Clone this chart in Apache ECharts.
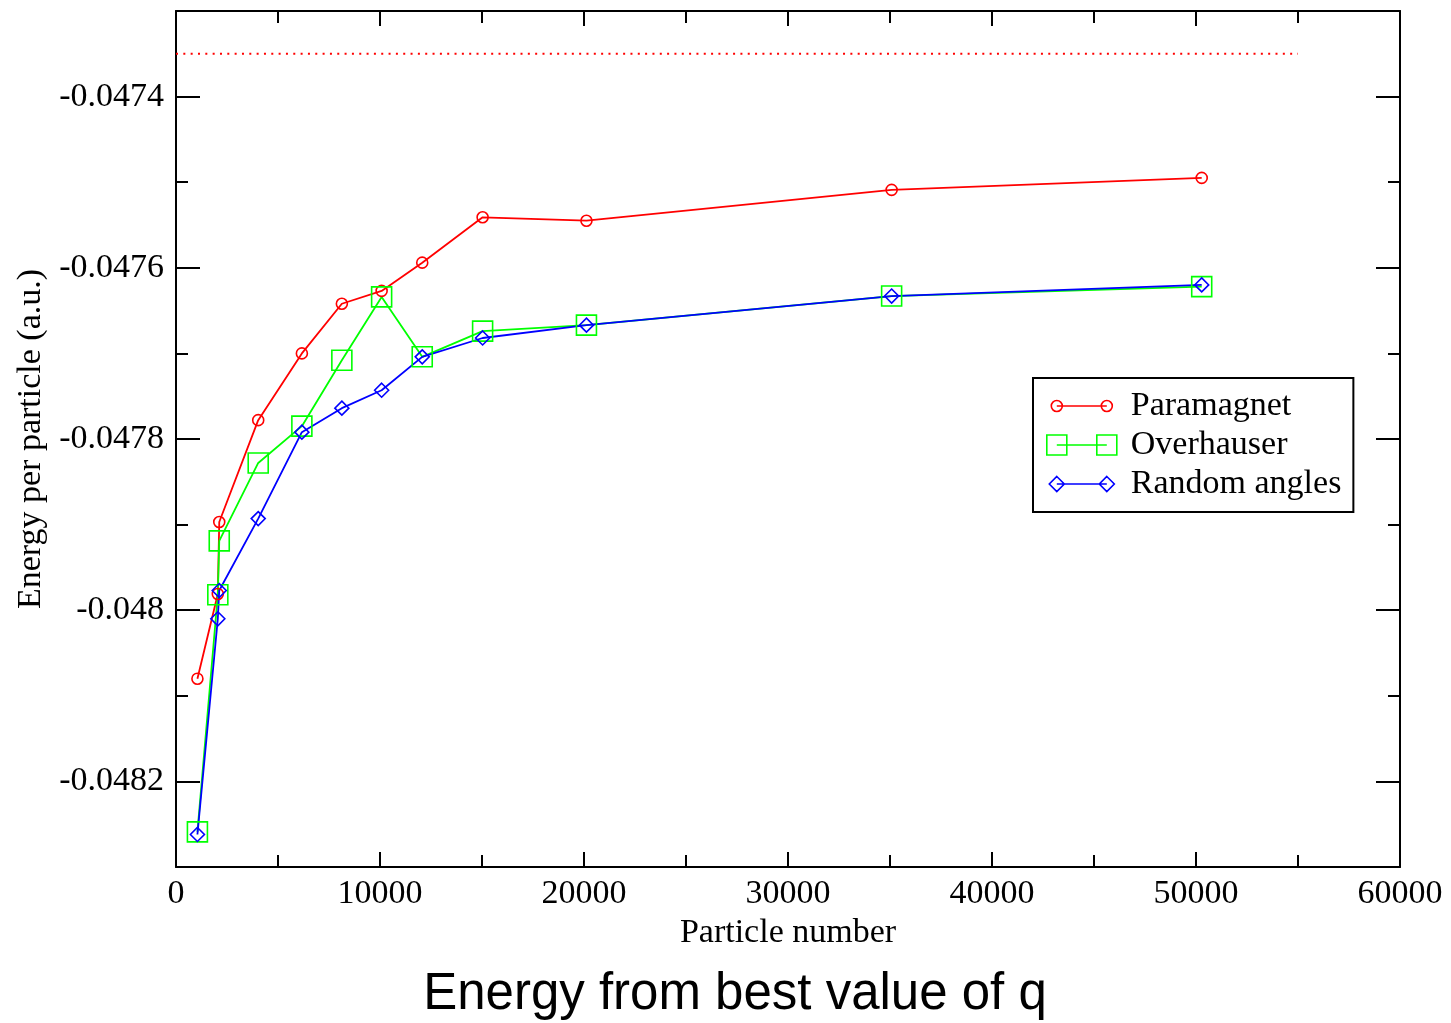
<!DOCTYPE html>
<html><head><meta charset="utf-8">
<script src="https://cdn.jsdelivr.net/npm/echarts@6/dist/echarts.min.js"></script>
<style>html,body{margin:0;padding:0;background:#fff}#c{width:1451px;height:1023px}</style>
</head><body><div id="c"></div>
<script>
const particleNumber = [1050, 2050, 2120, 4030, 6170, 8130, 10080, 12070, 15030, 20120, 35080, 50280];
const paramagnet   = [-0.048080, -0.047981, -0.047897, -0.047778, -0.047700, -0.047642, -0.047627, -0.047594, -0.047541, -0.047545, -0.047509, -0.047495];
const overhauser   = [-0.048259, -0.047982, -0.047919, -0.047828, -0.047785, -0.047708, -0.047634, -0.047704, -0.047674, -0.047667, -0.047633, -0.047622];
const randomAngles = [-0.048262, -0.048010, -0.047977, -0.047893, -0.047792, -0.047764, -0.047743, -0.047704, -0.047682, -0.047667, -0.047633, -0.047620];
const referenceX = [0, 55000];
const referenceY = [-0.04735, -0.04735];
const yMajorTicks = [-0.0482, -0.0480, -0.0478, -0.0476, -0.0474];
const seriesNames = ['Paramagnet', 'Overhauser', 'Random angles'];

const SERIF = 'Liberation Serif';
const pair = (xs, ys) => xs.map((x, i) => [x, ys[i]]);
const fmtY = v => Math.round(v * 1e4) % 2 === 0 ? String(parseFloat(v.toFixed(4))) : '';
const axisLine = { show: true, lineStyle: { color: '#000', width: 2 } };

function xAx(pos, labels) {
  return {
    type: 'value', position: pos, min: 0, max: 60000, interval: 10000,
    axisLine, splitLine: { show: false },
    axisTick: { show: true, inside: true, length: 15, lineStyle: { color: '#000', width: 2 } },
    minorTick: { show: true, splitNumber: 2, length: 12, lineStyle: { color: '#000', width: 2 } },
    axisLabel: { show: labels, formatter: v => String(v), fontFamily: SERIF, fontSize: 34, color: '#000', margin: 10 },
    name: labels ? 'Particle number' : '', nameLocation: 'middle', nameGap: 37,
    nameTextStyle: { fontFamily: SERIF, fontSize: 34, color: '#000' }
  };
}
function yAxMinor(pos, labels) {
  return {
    type: 'value', position: pos, min: -0.0483, max: -0.0473, interval: 0.0001,
    axisLine, splitLine: { show: false },
    axisTick: { show: true, inside: true, length: 12, lineStyle: { color: '#000', width: 2 } },
    axisLabel: { show: labels, formatter: fmtY, fontFamily: SERIF, fontSize: 34, color: '#000', margin: 12 },
    name: labels ? 'Energy per particle (a.u.)' : '', nameLocation: 'middle', nameGap: 120,
    nameTextStyle: { fontFamily: SERIF, fontSize: 34, color: '#000' }
  };
}
function yAxMajor(pos) {
  return {
    type: 'value', position: pos, min: -0.0483, max: -0.0473, interval: 0.0001,
    axisLine: { show: false }, splitLine: { show: false }, axisLabel: { show: false },
    axisTick: { show: true, inside: true, length: 24, customValues: yMajorTicks, lineStyle: { color: '#000', width: 2 } }
  };
}

const circleIcon = 'path://M0 0M80 22M16.5 11A5.5 5.5 0 1 0 5.5 11A5.5 5.5 0 1 0 16.5 11ZM11 11L61 11M66.5 11A5.5 5.5 0 1 0 55.5 11A5.5 5.5 0 1 0 66.5 11Z';
const squareIcon = 'path://M0 0M80 22M1 1L21 1L21 21L1 21ZM11 11L61 11M51 1L71 1L71 21L51 21Z';
const diamondIcon = 'path://M0 0M80 22M11 3.5L18.5 11L11 18.5L3.5 11ZM11 11L61 11M61 3.5L68.5 11L61 18.5L53.5 11Z';

function lineSeries(name, ys, color, symbol, size) {
  return {
    name, type: 'line', xAxisIndex: 0, yAxisIndex: 0, data: pair(particleNumber, ys),
    symbol, symbolSize: size, showSymbol: true,
    itemStyle: { color: 'transparent', borderColor: color, borderWidth: 1.6 },
    lineStyle: { color, width: 1.8 },
    emphasis: { disabled: true }, silent: true
  };
}

const chart = echarts.init(document.getElementById('c'), null, { renderer: 'canvas' });
chart.setOption({
  animation: false,
  backgroundColor: '#fff',
  title: {
    text: 'Energy from best value of q', left: 730, textAlign: 'center', top: 964,
    textStyle: { fontFamily: 'Liberation Sans', fontSize: 51, fontWeight: 'normal', color: '#000' }
  },
  grid: { left: 176, right: 51, top: 11, bottom: 156, containLabel: false },
  xAxis: [xAx('bottom', true), xAx('top', false)],
  yAxis: [yAxMinor('left', true), yAxMajor('left'), yAxMinor('right', false), yAxMajor('right')],
  legend: {
    orient: 'vertical', left: 1033, top: 378,
    padding: [11, 12, 11, 12], itemGap: 5, itemWidth: 80, itemHeight: 22,
    backgroundColor: '#fff', borderColor: '#000', borderWidth: 2, borderRadius: 0,
    textStyle: { fontFamily: SERIF, fontSize: 34, color: '#000', lineHeight: 34 },
    selectedMode: false,
    data: [
      { name: seriesNames[0], icon: circleIcon, itemStyle: { color: 'transparent', borderColor: '#ff0000', borderWidth: 1.6 } },
      { name: seriesNames[1], icon: squareIcon, itemStyle: { color: 'transparent', borderColor: '#00ff00', borderWidth: 1.6 } },
      { name: seriesNames[2], icon: diamondIcon, itemStyle: { color: 'transparent', borderColor: '#0000ff', borderWidth: 1.6 } }
    ]
  },
  series: [
    {
      name: 'reference', type: 'line', data: pair(referenceX, referenceY), symbol: 'none',
      lineStyle: { color: '#ff0000', width: 2, type: [2, 5.33] }, silent: true
    },
    lineSeries(seriesNames[0], paramagnet, '#ff0000', 'circle', 11),
    lineSeries(seriesNames[1], overhauser, '#00ff00', 'rect', 20),
    lineSeries(seriesNames[2], randomAngles, '#0000ff', 'diamond', 14)
  ]
});
</script></body></html>
